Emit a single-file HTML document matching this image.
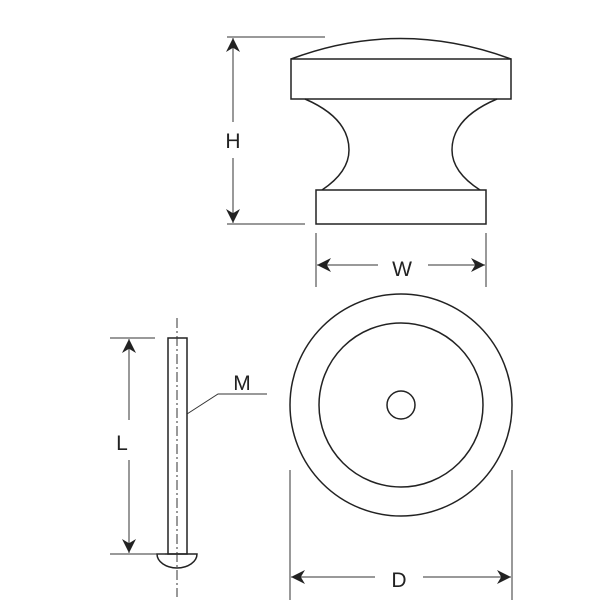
<!DOCTYPE html>
<html><head><style>body{margin:0;background:#fff}svg{display:block}</style></head><body>
<svg width="600" height="607" viewBox="0 0 600 607" xmlns="http://www.w3.org/2000/svg">
<defs><marker id="a" viewBox="0 0 10 10" refX="10" refY="5" markerWidth="14" markerHeight="14" markerUnits="userSpaceOnUse" orient="auto-start-reverse"><path d="M0,0 L10,5 L0,10 L3,5 Z" fill="#222"/></marker></defs>
<g fill="none" stroke="#222" stroke-width="1.5">
<path d="M291,59 Q400,18 511,59"/>
<rect x="291" y="59" width="220" height="40"/>
<path d="M305,99 Q349,118 349,150 Q349,172 322,190"/>
<path d="M497,99 Q452,118 452,150 Q452,172 480,190"/>
<rect x="316" y="190" width="170" height="34"/>
<circle cx="401" cy="405" r="111"/>
<circle cx="401" cy="405" r="82"/>
<circle cx="401" cy="405" r="14"/>
<rect x="168" y="338" width="19" height="216"/>
<path d="M157,554 A20,14 0 0 0 197,554 Z"/>
</g>
<g fill="none" stroke="#333" stroke-width="1">
<line x1="227" y1="37" x2="325" y2="37"/><line x1="227" y1="224" x2="305" y2="224"/>
<line x1="233" y1="38" x2="233" y2="122" marker-start="url(#a)"/><line x1="233" y1="158" x2="233" y2="223" marker-end="url(#a)"/>
<line x1="316" y1="233" x2="316" y2="287"/><line x1="486" y1="233" x2="486" y2="287"/>
<line x1="317" y1="265" x2="378" y2="265" marker-start="url(#a)"/><line x1="428" y1="265" x2="485" y2="265" marker-end="url(#a)"/>
<line x1="290" y1="470" x2="290" y2="600"/><line x1="512" y1="470" x2="512" y2="600"/>
<line x1="291" y1="577" x2="375" y2="577" marker-start="url(#a)"/><line x1="423" y1="577" x2="511" y2="577" marker-end="url(#a)"/>
<line x1="110" y1="338" x2="155" y2="338"/><line x1="110" y1="554" x2="165" y2="554"/>
<line x1="129" y1="339" x2="129" y2="420" marker-start="url(#a)"/><line x1="129" y1="460" x2="129" y2="553" marker-end="url(#a)"/>
<line x1="177" y1="318" x2="177" y2="597" stroke-dasharray="10,3,2,3"/>
<polyline points="187,414 218,394 267,394"/>
</g>
<g font-family="Liberation Sans, sans-serif" font-size="21" fill="#222" text-anchor="middle">
<text x="233" y="148">H</text><text x="402" y="276">W</text><text x="399" y="587">D</text>
<text x="122" y="450">L</text><text x="242" y="390">M</text>
</g>
</svg>
</body></html>
